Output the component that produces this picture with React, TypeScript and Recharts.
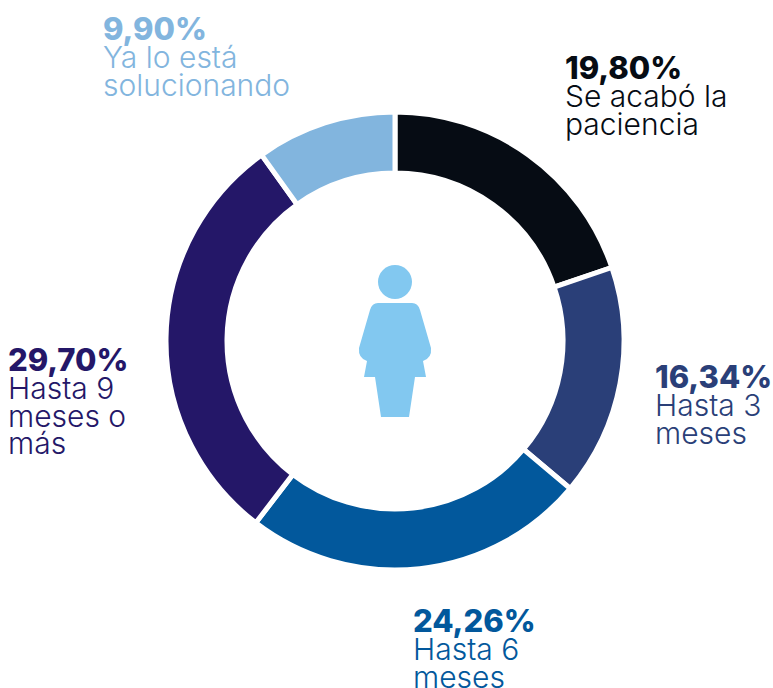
import { PieChart, Pie, Cell } from 'recharts';

const categories = ['Se acabó la paciencia', 'Hasta 3 meses', 'Hasta 6 meses', 'Hasta 9 meses o más', 'Ya lo está solucionando'];
const values = [19.8, 16.34, 24.26, 29.7, 9.9];
const percentLabels = ['19,80%', '16,34%', '24,26%', '29,70%', '9,90%'];
const labelLines = [
  ['Se acabó la', 'paciencia'],
  ['Hasta 3', 'meses'],
  ['Hasta 6', 'meses'],
  ['Hasta 9', 'meses o', 'más'],
  ['Ya lo está', 'solucionando'],
];

const colors = ['#060c14', '#2a3f78', '#02589c', '#241768', '#82b5de'];
// baseline of the bold percentage, per label
const labelPos = [
  { x: 565, y: 79 },
  { x: 655, y: 388 },
  { x: 413, y: 632 },
  { x: 8, y: 371 },
  { x: 103, y: 40 },
];

const FONT = 'Inter, "Noto Sans", sans-serif';

const data = categories.map((name, i) => ({ name, value: values[i] }));

function Woman() {
  return (
    <g fill="#82c8f0">
      <circle cx={395} cy={282} r={17} />
      <path d="M378 303 H412 Q418 303 420 310 L431 348 Q432 358 423 361 L426 377 H415 L409 417 H381 L375 377 H364 L367 361 Q358 358 359 348 L370 310 Q372 303 378 303 Z" />
    </g>
  );
}

function Labels() {
  return (
    <g fontFamily={FONT}>
      {percentLabels.map((pct, i) => (
        <text key={pct} x={labelPos[i].x} y={labelPos[i].y} fill={colors[i]}>
          <tspan fontSize={31} fontWeight={800}>
            {pct}
          </tspan>
          {labelLines[i].map((line, j) => (
            <tspan key={line} x={labelPos[i].x} dy={j === 0 ? 28 : 27.5} fontSize={30} fontWeight={300}>
              {line}
            </tspan>
          ))}
        </text>
      ))}
    </g>
  );
}

export default function App() {
  return (
    <div style={{ position: 'absolute', left: 0, top: 0, width: 773, height: 688, background: '#fff' }}>
      <PieChart width={773} height={688} margin={{ top: 0, right: 0, bottom: 0, left: 0 }}>
        <Pie
          data={data}
          dataKey="value"
          nameKey="name"
          cx={395}
          cy={341}
          innerRadius={168}
          outerRadius={229}
          startAngle={90}
          endAngle={-270}
          stroke="#fff"
          strokeWidth={5}
          isAnimationActive={false}
        >
          {data.map((d, i) => (
            <Cell key={d.name} fill={colors[i]} />
          ))}
        </Pie>
        <Woman />
        <Labels />
      </PieChart>
    </div>
  );
}
